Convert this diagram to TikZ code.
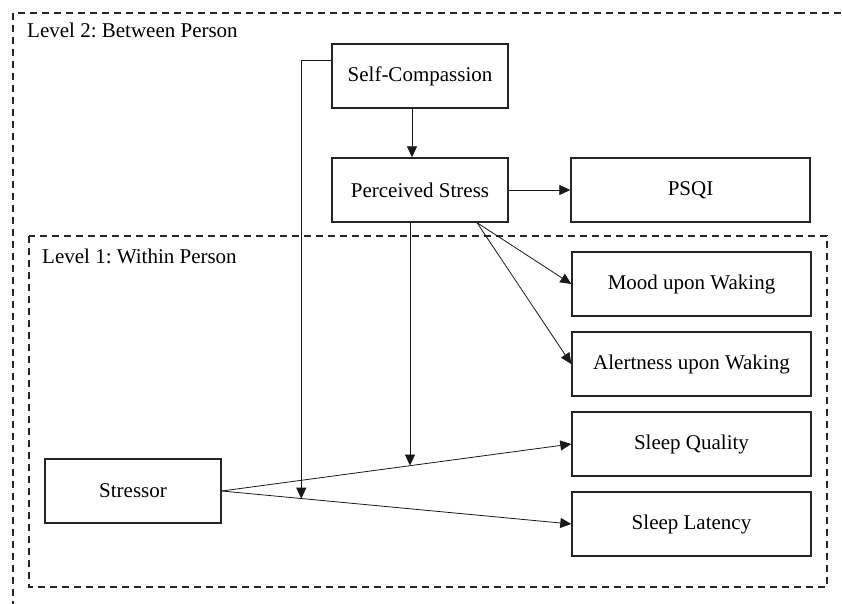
\documentclass[tikz,border=0pt]{standalone}
\usepackage{fontspec}
\setmainfont{Liberation Serif}
\usetikzlibrary{arrows.meta,calc}
\frenchspacing
\begin{document}
\begin{tikzpicture}[x=1pt,y=-1pt,
  box/.style={draw=black!85,line width=1.4pt,minimum height=64pt,inner sep=0pt,font=\fontsize{21}{25}\selectfont},
  narrowbox/.style={box,minimum width=176pt},
  widebox/.style={box,minimum width=239pt},
  conn/.style={draw=black!90,line width=0.8pt},
  arr/.style={conn,-{Triangle[length=11pt,width=10pt]}},
  region/.style={draw=black!85,line width=1.3pt,dash pattern=on 7pt off 5pt},
  lvl/.style={anchor=base west,inner sep=0pt,font=\fontsize{21}{25}\selectfont}]
\useasboundingbox (0,0) rectangle (842,604);
\clip (0,0) rectangle (842,604);
\fill[white] (0,0) rectangle (842,604);
% regions
\draw[region] (13,620) -- (13,13) -- (860,13);
\draw[region] (29,236) rectangle (827,587);
\node[lvl] (l2) at (27,38) {Level 2: Between Person};
\node[lvl] (l1) at (42,263) {Level 1: Within Person};
% boxes
\node[narrowbox] (sc) at (420,76) {Self-Compassion};
\node[narrowbox] (ps) at (420,190) {Perceived Stress};
\node[widebox] (psqi) at (690.5,190) {PSQI};
\node[widebox] (mood) at (691.5,284) {Mood upon Waking};
\node[widebox] (al) at (691.5,364) {Alertness upon Waking};
\node[widebox] (sq) at (691.5,444) {Sleep Quality};
\node[widebox] (sl) at (691.5,524) {Sleep Latency};
\node[narrowbox] (st) at (133,491) {Stressor};
% helper coordinates
\coordinate (src) at ($(ps.south)+(57,0)$);
\coordinate (m1) at ($(st.east)!0.232!(sl.west)$);
\coordinate (m2) at ($(st.east)!0.5415!(sq.west)$);
\coordinate (bend) at ($(sc.west)+(-30,-16)$);
% connectors
\draw[arr] ([xshift=-8pt]sc.south) -- ([xshift=-8pt]ps.north);
\draw[arr] (ps.east) -- (psqi.west);
\draw[arr] (src) -- (mood.west);
\draw[arr] (src) -- (al.west);
\draw[arr] (st.east) -- (sq.west);
\draw[arr] (st.east) -- (sl.west);
\draw[arr] ([yshift=16pt]sc.west) -- (bend) -- (bend |- m1);
\draw[arr] ([xshift=-10pt]ps.south) -- ([xshift=-10pt]ps.south |- m2);
\end{tikzpicture}
\end{document}
